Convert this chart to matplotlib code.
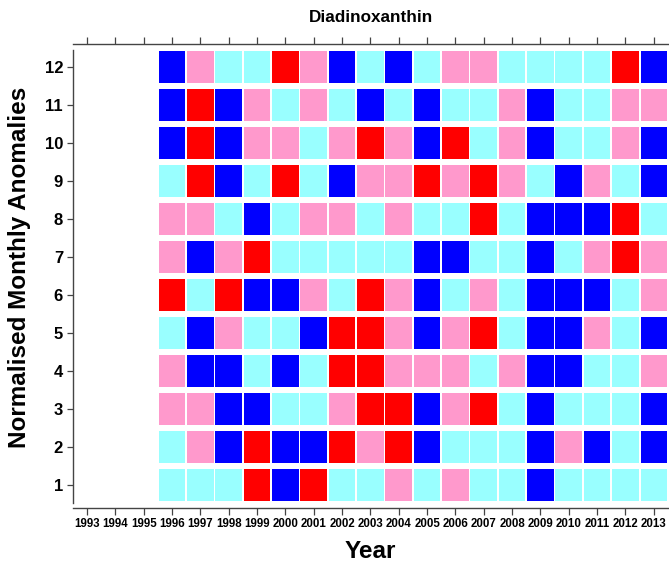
import matplotlib
matplotlib.use("Agg")
import matplotlib.pyplot as plt
import numpy as np

plt.rcParams['font.family'] = ['Liberation Sans', 'DejaVu Sans']

years = list(range(1996, 2014))
months = list(range(1, 13))
all_year_ticks = list(range(1993, 2014))

# Anomaly class per month row (B=strong negative, C=weak negative, P=weak positive, R=strong positive)
row_12 = "B P C C R P B C B C P P C C C C R B".split()
row_11 = "B R B P C P C B C B C C P B C C P P".split()
row_10 = "B R B P P C P R P B R C P B C C P B".split()
row_9  = "C R B C R C B P P R P R P C B P C B".split()
row_8  = "P P C B C P P C P C C R C B B B R C".split()
row_7  = "P B P R C C C C C B B C C B C P R P".split()
row_6  = "R C R B B P C R P B C P C B B B C P".split()
row_5  = "C B P C C B R R P B P R C B B P C B".split()
row_4  = "P B B C B C R R P P P C P B B C C P".split()
row_3  = "P P B B C C P R R B P R C B C C C B".split()
row_2  = "C P B R B B R P R B C C C B P B C B".split()
row_1  = "C C C R B R C C P C P C C B C C C C".split()

rows = {12: row_12, 11: row_11, 10: row_10, 9: row_9, 8: row_8, 7: row_7,
        6: row_6, 5: row_5, 4: row_4, 3: row_3, 2: row_2, 1: row_1}

palette = {"B": "#0000FF", "C": "#99FFFF", "P": "#FF99CC", "R": "#FF0000"}

W, H = 669, 564
fig = plt.figure(figsize=(W / 100, H / 100), dpi=100)
ax = fig.add_axes([72.8 / W, 1 - 508 / H, (668 - 72.8) / W, (508 - 44) / H])

cell_h = 0.84
for m in months:
    cats = rows[m]
    ax.bar(years, [cell_h] * len(years), bottom=m - cell_h / 2, width=0.94,
           color=[palette[c] for c in cats], edgecolor='none', align='center')

ax.set_xlim(1992.5, 2013.5)
ax.set_ylim(0.395, 12.605)

spine_col = '#444444'
for s in ['left', 'top', 'bottom']:
    ax.spines[s].set_color(spine_col)
    ax.spines[s].set_linewidth(1.0)
ax.spines['right'].set_visible(False)
ax.spines['left'].set_bounds(0.53, 12.45)

ax.set_xticks(all_year_ticks)
ax.set_xticklabels([str(y) for y in all_year_ticks], fontsize=8.3, fontweight='bold')
ax.set_yticks(months)
ax.set_yticklabels([str(m) for m in months], fontsize=12, fontweight='bold')
ax.tick_params(axis='x', which='both', direction='out', length=5, width=0.9,
               color=spine_col, top=True, labeltop=False, pad=2)
ax.tick_params(axis='y', direction='out', length=4, width=0.9, color=spine_col, pad=3)

fig.text(371 / W, 1 - 18 / H, "Diadinoxanthin", ha='center', va='center',
         fontsize=12.3, fontweight='bold')
fig.text(370 / W, 1 - 551 / H, "Year", ha='center', va='center',
         fontsize=17.5, fontweight='bold')
fig.text(20 / W, 1 - 267 / H, "Normalised Monthly Anomalies", ha='center', va='center',
         rotation=90, fontsize=17.5, fontweight='bold')

fig.savefig("out.png", dpi=100)
